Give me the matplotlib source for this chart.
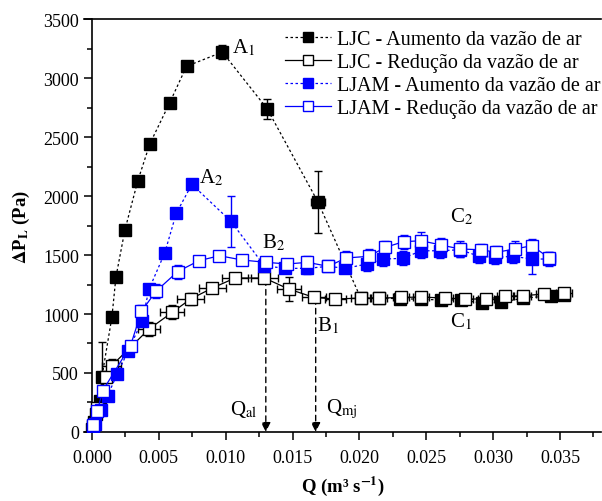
import numpy as np
import matplotlib.pyplot as plt
from matplotlib.lines import Line2D
from matplotlib.ticker import MultipleLocator, FormatStrFormatter

plt.rcParams['font.family'] = ['Liberation Serif', 'DejaVu Serif']
plt.rcParams['mathtext.fontset'] = 'stix'

# LJC - Aumento da vazao de ar (filled black, dotted)
ljc_up_q = [0.0, 0.00015, 0.0003, 0.0006, 0.00074, 0.00149, 0.00179, 0.00246, 0.00342,
            0.00432, 0.0058, 0.00707, 0.00975, 0.0131, 0.0169, 0.0201, 0.0215, 0.0230,
            0.0246, 0.0261, 0.0276, 0.0292, 0.0306, 0.0322, 0.0343, 0.0353]
ljc_up_dp = [25, 85, 152, 263, 466, 975, 1313, 1712, 2127, 2441, 2788, 3100, 3220, 2740,
             1950, 1135, 1135, 1130, 1125, 1119, 1119, 1092, 1100, 1133, 1155, 1161]
ljc_up_yerr = [10, 15, 20, 20, 300, 20, 20, 20, 20, 20, 20, 30, 60, 85, 260, 20, 20, 20,
               20, 20, 20, 20, 20, 20, 20, 20]
ljc_up_xerr = [0, 0, 0, 0, 0, 0, 0, 0, 0, 0, 0, 0, 0, 0, 0.0005, 0, 0, 0, 0, 0, 0, 0, 0,
               0, 0, 0]

# LJC - Reducao da vazao de ar (open black, solid)
ljc_down_q = [0.0353, 0.0338, 0.0322, 0.0309, 0.0295, 0.0279, 0.0264, 0.0246, 0.0231,
              0.0215, 0.0201, 0.0182, 0.0166, 0.0147, 0.0129, 0.0107, 0.0090, 0.00737,
              0.0060, 0.00427, 0.00147, 0.00102, 0.0004, 0.0001]
ljc_down_dp = [1178, 1169, 1155, 1150, 1127, 1127, 1135, 1144, 1140, 1135, 1135, 1127,
               1141, 1212, 1305, 1305, 1220, 1127, 1014, 873, 562, 469, 200, 50]
ljc_down_yerr = [20, 20, 20, 20, 20, 20, 20, 20, 20, 20, 20, 20, 20, 100, 30, 20, 40, 50,
                 60, 60, 60, 40, 20, 10]
ljc_down_xerr = [0.0006, 0.0006, 0.0006, 0.0006, 0.0006, 0.0006, 0.0006, 0.0006, 0.0006,
                 0.0006, 0.0007, 0.0008, 0.0009, 0.0009, 0.0010, 0.0010, 0.0010, 0.0010,
                 0.0009, 0.0008, 0.0007, 0.0003, 0.0001, 0.0001]

# LJAM - Aumento da vazao de ar (filled blue, dotted)
ljam_up_q = [0.0001, 0.00022, 0.00067, 0.00117, 0.00189, 0.00271, 0.00375, 0.00427,
             0.00544, 0.0063, 0.00747, 0.0104, 0.01288, 0.01445, 0.01611, 0.01767,
             0.01896, 0.02057, 0.0218, 0.02326, 0.02462, 0.02606, 0.02752, 0.02896,
             0.03017, 0.0315, 0.0329, 0.0342]
ljam_up_dp = [25, 68, 189, 308, 492, 689, 943, 1212, 1517, 1853, 2099, 1785, 1409, 1387,
              1387, 1404, 1387, 1424, 1466, 1472, 1536, 1536, 1545, 1489, 1480, 1489,
              1466, 1466]
ljam_up_yerr = [10, 15, 20, 20, 25, 30, 40, 30, 40, 30, 30, 215, 30, 40, 50, 40, 40, 60,
                55, 60, 60, 60, 60, 60, 60, 60, 125, 60]

# LJAM - Reducao da vazao de ar (open blue, solid)
ljam_down_q = [0.0342, 0.0329, 0.03162, 0.03025, 0.02906, 0.02752, 0.02611, 0.02462,
               0.0233, 0.02194, 0.0207, 0.019, 0.01767, 0.01611, 0.01462, 0.01301,
               0.01122, 0.00953, 0.008, 0.0064, 0.00479, 0.0037, 0.00288, 0.0008,
               0.0004, 0.0001]
ljam_down_dp = [1475, 1579, 1551, 1523, 1545, 1551, 1585, 1621, 1613, 1565, 1489, 1475,
                1404, 1438, 1424, 1438, 1458, 1494, 1452, 1359, 1193, 1023, 731, 350,
                180, 60]
ljam_down_yerr = [50, 60, 70, 50, 50, 70, 60, 70, 60, 50, 60, 60, 40, 50, 40, 40, 30, 30,
                  40, 60, 60, 50, 40, 30, 20, 10]
ljam_down_xerr = [0.0004, 0.0003, 0.0003, 0.0003, 0.0003, 0.0003, 0.0003, 0.0003,
                  0.0003, 0.0003, 0.0003, 0.0003, 0.0003, 0.0003, 0.0003, 0.0003,
                  0.0003, 0.0003, 0.0003, 0.0003, 0.0003, 0.0003, 0.0003, 0.0002,
                  0.0001, 0.0001]

labels = ['LJC - Aumento da vazão de ar', 'LJC - Redução da vazão de ar',
          'LJAM - Aumento da vazão de ar', 'LJAM - Redução da vazão de ar']

blue = '#0000ff'
dotted = (0, (2, 2))
fig = plt.figure(figsize=(6.02, 5.02), dpi=100)
ax = fig.add_axes([0.1395, 0.1375, 0.8595, 0.8225])

ms = 8
ax.errorbar(ljc_up_q, ljc_up_dp, yerr=ljc_up_yerr, xerr=ljc_up_xerr, color='black',
            ls=dotted, lw=0.9, marker='s', ms=ms, mfc='black', mec='black',
            ecolor='black', elinewidth=1.0, capsize=3, zorder=3)
ax.errorbar(ljc_down_q, ljc_down_dp, yerr=ljc_down_yerr, xerr=ljc_down_xerr, color='black',
            ls='-', lw=0.9, marker='s', ms=ms, mfc='white', mec='black',
            ecolor='black', elinewidth=1.0, capsize=3, zorder=3)
ax.errorbar(ljam_up_q, ljam_up_dp, yerr=ljam_up_yerr, color=blue,
            ls=dotted, lw=0.9, marker='s', ms=ms, mfc=blue, mec=blue,
            ecolor=blue, elinewidth=1.0, capsize=3, zorder=4)
ax.errorbar(ljam_down_q, ljam_down_dp, yerr=ljam_down_yerr, xerr=ljam_down_xerr, color=blue,
            ls='-', lw=0.9, marker='s', ms=ms, mfc='white', mec=blue,
            ecolor=blue, elinewidth=1.0, capsize=3, zorder=4)

# dashed arrows for Q_al and Q_mj
ax.annotate('', xy=(0.0130, 0), xytext=(0.0130, 1290),
            arrowprops=dict(arrowstyle='-|>', ls=(0, (4, 3)), color='black', lw=1.0,
                            mutation_scale=14, shrinkA=0, shrinkB=0))
ax.annotate('', xy=(0.01673, 0), xytext=(0.01673, 1130),
            arrowprops=dict(arrowstyle='-|>', ls=(0, (4, 3)), color='black', lw=1.0,
                            mutation_scale=14, shrinkA=0, shrinkB=0))

fs = 15
ax.text(0.0105, 3260, r'A$_1$', fontsize=fs, va='center')
ax.text(0.0080, 2160, r'A$_2$', fontsize=fs, va='center')
ax.text(0.0127, 1610, r'B$_2$', fontsize=fs, va='center')
ax.text(0.0168, 910, r'B$_1$', fontsize=fs, va='center')
ax.text(0.0268, 1830, r'C$_2$', fontsize=fs, va='center')
ax.text(0.0268, 940, r'C$_1$', fontsize=fs, va='center')
ax.text(0.0124, 200, r'Q$_{\rm al}$', fontsize=fs, va='center', ha='right')
ax.text(0.0175, 200, r'Q$_{\rm mj}$', fontsize=fs, va='center', ha='left')

ax.set_xlim(-0.0006, 0.0381)
ax.set_ylim(0, 3500)
ax.spines['right'].set_visible(False)
ax.spines['left'].set_position(('data', 0))
ax.spines['left'].set_linewidth(1.2)
ax.spines['bottom'].set_linewidth(1.2)
ax.spines['top'].set_linewidth(1.2)

ax.xaxis.set_major_locator(MultipleLocator(0.005))
ax.xaxis.set_minor_locator(MultipleLocator(0.0025))
ax.xaxis.set_major_formatter(FormatStrFormatter('%.3f'))
ax.yaxis.set_major_locator(MultipleLocator(500))
ax.yaxis.set_minor_locator(MultipleLocator(250))
ax.tick_params(which='major', direction='out', length=6, width=1.1, labelsize=13)
ax.tick_params(axis='x', which='major', pad=6)
ax.tick_params(which='minor', direction='out', length=3.5, width=1.1)
ax.tick_params(top=False, right=False, which='both')

ax.set_xlabel(r'Q (m³ s$^{\mathbf{-1}}$)', fontsize=13.5, fontweight='bold', labelpad=6)
ax.set_ylabel(r'$\mathbf{\Delta}$P$_{\mathbf{L}}$ (Pa)', fontsize=13.5, fontweight='bold',
              labelpad=8)

handles = [
    Line2D([], [], color='black', ls=dotted, lw=0.9, marker='s', ms=7, mfc='black'),
    Line2D([], [], color='black', ls='-', lw=0.9, marker='s', ms=7, mfc='white'),
    Line2D([], [], color=blue, ls=dotted, lw=0.9, marker='s', ms=7, mfc=blue, mec=blue),
    Line2D([], [], color=blue, ls='-', lw=0.9, marker='s', ms=7, mfc='white', mec=blue),
]
ax.legend(handles, labels, loc='upper right', bbox_to_anchor=(1.018, 0.998),
          frameon=False, fontsize=14.5, handlelength=2.3, handletextpad=0.3,
          labelspacing=0.2, borderaxespad=0.1)

fig.savefig('out.png', dpi=100)
